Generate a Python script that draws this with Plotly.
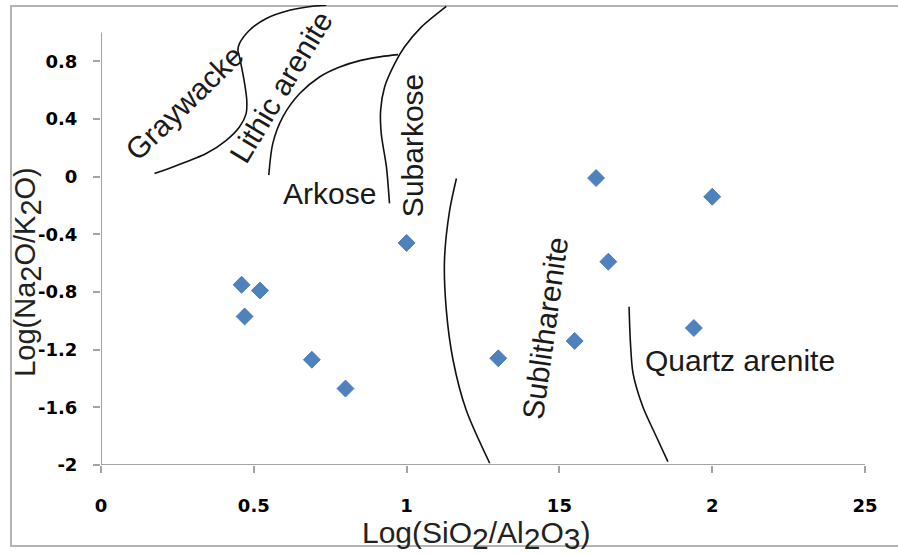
import plotly.graph_objects as go

# Sample compositions: log(SiO2/Al2O3) vs log(Na2O/K2O)
sample_x = [0.46, 0.52, 0.47, 0.69, 0.80, 1.00, 1.30, 1.55, 1.62, 1.66, 2.00, 1.94]
sample_y = [-0.75, -0.79, -0.97, -1.27, -1.47, -0.46, -1.26, -1.14, -0.01, -0.59, -0.14, -1.05]

# Field boundaries (Pettijohn et al. style classification)
graywacke_lithic_x = [0.175, 0.235, 0.344, 0.410, 0.453, 0.475, 0.477, 0.470, 0.453, 0.448,
                      0.453, 0.486, 0.541, 0.617, 0.692, 0.737]
graywacke_lithic_y = [0.021, 0.067, 0.160, 0.252, 0.344, 0.437, 0.529, 0.645, 0.830, 0.876,
                      0.922, 1.015, 1.096, 1.153, 1.181, 1.188]
lithic_arkose_x = [0.549, 0.562, 0.595, 0.650, 0.715, 0.781, 0.850, 0.917, 0.972]
lithic_arkose_y = [0.010, 0.229, 0.414, 0.576, 0.691, 0.760, 0.806, 0.832, 0.846]
arkose_subarkose_x = [0.944, 0.934, 0.917, 0.915, 0.928, 0.961, 0.993, 1.048, 1.130]
arkose_subarkose_y = [-0.186, 0.067, 0.299, 0.460, 0.622, 0.784, 0.899, 1.037, 1.181]
subarkose_sublith_x = [1.163, 1.141, 1.124, 1.130, 1.152, 1.195, 1.272]
subarkose_sublith_y = [-0.013, -0.233, -0.579, -0.926, -1.272, -1.619, -1.988]
sublith_quartz_x = [1.728, 1.732, 1.741, 1.773, 1.812, 1.855]
sublith_quartz_y = [-0.903, -1.134, -1.365, -1.596, -1.780, -1.977]

boundaries = [
    (graywacke_lithic_x, graywacke_lithic_y),
    (lithic_arkose_x, lithic_arkose_y),
    (arkose_subarkose_x, arkose_subarkose_y),
    (subarkose_sublith_x, subarkose_sublith_y),
    (sublith_quartz_x, sublith_quartz_y),
]

# Field names: (text, x, y, angle)
field_labels = [
    ("Graywacke", 0.273, 0.516, -44),
    ("Lithic arenite", 0.590, 0.623, -59),
    ("Arkose", 0.748, -0.117, 0),
    ("Subarkose", 1.018, 0.212, -90),
    ("Sublitharenite", 1.452, -1.051, -82),
    ("Quartz arenite", 2.090, -1.272, 0),
]

x_tickvals = [0, 0.5, 1, 1.5, 2, 2.5]
x_ticktext = ["0", "0.5", "1", "15", "2", "25"]
y_tickvals = [0.8, 0.4, 0, -0.4, -0.8, -1.2, -1.6, -2]
y_ticktext = ["0.8", "0.4", "0", "-0.4", "-0.8", "-1.2", "-1.6", "-2"]

X_RANGE = [0, 2.5]
Y_RANGE = [-2, 1.19]
Y_AXIS_TOP = 1.0

TEXT_FONT = "Liberation Sans, Arial, sans-serif"
AXIS_GRAY = "#a3a3a3"

fig = go.Figure()

for bx, by in boundaries:
    fig.add_trace(go.Scatter(
        x=bx, y=by, mode="lines",
        line=dict(color="#111111", width=1.6, shape="spline", smoothing=0.8),
        hoverinfo="skip", showlegend=False,
    ))

fig.add_trace(go.Scatter(
    x=sample_x, y=sample_y, mode="markers",
    marker=dict(symbol="diamond", size=13, color="#4f81bd",
                line=dict(color="#4a7ebb", width=1)),
    showlegend=False,
))

for text, lx, ly, ang in field_labels:
    fig.add_annotation(
        x=lx, y=ly, xref="x", yref="y", text=text, showarrow=False,
        textangle=ang, font=dict(family=TEXT_FONT, size=30, color="#1a1a1a"),
        xanchor="center", yanchor="middle",
    )

def full_sub(d, size):
    return f'<sub><span style="font-size:{size}px">{d}</span></sub>'

# Axis titles
fig.add_annotation(
    x=0.491, y=-0.153, xref="paper", yref="paper",
    text="Log(SiO" + full_sub(2, 30) + "/Al" + full_sub(2, 30) + "O" + full_sub(3, 30) + ")",
    showarrow=False, font=dict(family=TEXT_FONT, size=30, color="#222222"),
    xanchor="center", yanchor="middle",
)
fig.add_annotation(
    x=-0.0955, y=0.42, xref="paper", yref="paper",
    text="Log(Na" + full_sub(2, 29) + "O/K" + full_sub(2, 29) + "O)",
    showarrow=False, textangle=-90,
    font=dict(family=TEXT_FONT, size=29, color="#222222"),
    xanchor="center", yanchor="middle",
)

# Axis lines
fig.add_shape(type="line", xref="x", yref="y", x0=0, x1=X_RANGE[1], y0=Y_RANGE[0], y1=Y_RANGE[0],
              line=dict(color=AXIS_GRAY, width=2))
fig.add_shape(type="line", xref="x", yref="y", x0=0, x1=0, y0=Y_RANGE[0], y1=Y_AXIS_TOP,
              line=dict(color=AXIS_GRAY, width=2))

# Chart frame
fig.add_shape(type="rect", xref="paper", yref="paper",
              x0=-0.1178, x1=1.06, y0=-0.176, y1=0.998,
              line=dict(color="#b4b4b4", width=2), layer="below")

tick_font = dict(family="DejaVu Sans, Verdana, sans-serif", size=18, color="#000000",
                 weight="bold")

fig.update_xaxes(
    range=X_RANGE, tickvals=x_tickvals, ticktext=x_ticktext,
    showgrid=False, zeroline=False, showline=False,
    ticks="outside", ticklen=7, tickcolor=AXIS_GRAY, tickwidth=1.5,
    tickfont=tick_font, ticklabelstandoff=17,
)
fig.update_yaxes(
    range=Y_RANGE, tickvals=y_tickvals, ticktext=y_ticktext,
    showgrid=False, zeroline=False, showline=False,
    ticks="outside", ticklen=7, tickcolor=AXIS_GRAY, tickwidth=1.5,
    tickfont=tick_font, ticklabelstandoff=12,
)

fig.update_layout(
    width=898, height=554, autosize=False,
    margin=dict(l=101, r=33, t=5, b=89),
    plot_bgcolor="white", paper_bgcolor="white",
    showlegend=False,
)

fig.write_html("out.html")
